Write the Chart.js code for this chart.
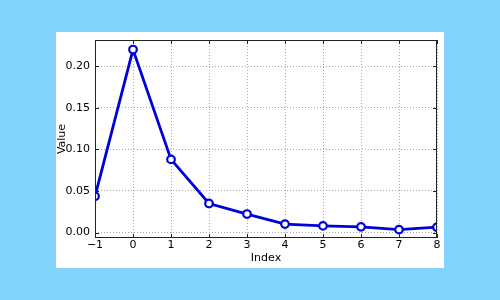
<!DOCTYPE html>
<html>
<head>
<meta charset="utf-8">
<script src="https://cdn.jsdelivr.net/npm/chart.js@4"></script>
<style>
  html, body { margin: 0; padding: 0; }
  body { width: 500px; height: 300px; background: #82d3fd; position: relative; overflow: hidden; }
  #box { position: absolute; left: 56px; top: 32px; width: 388px; height: 236px; background: #fff; }
</style>
</head>
<body>
<div id="box"><canvas id="chart" width="388" height="236"></canvas></div>
<script>
// values
const indices = [-1, 0, 1, 2, 3, 4, 5, 6, 7, 8];
const values = [0.0436, 0.220, 0.088, 0.035, 0.0223, 0.0102, 0.0081, 0.0069, 0.0036, 0.0065];
const yTicks = [0.00, 0.05, 0.10, 0.15, 0.20];

const font = { family: 'DejaVu Sans', size: 11 };

// matplotlib-style black frame with inward ticks
const framePlugin = {
    id: 'frame',
    afterDatasetsDraw(chart) {
        let ctx = chart.ctx;
        let a = chart.chartArea;
        let xs = chart.scales.x, ys = chart.scales.y;
        ctx.save();
        ctx.strokeStyle = '#222';
        ctx.lineWidth = 1;
        ctx.strokeRect(a.left + 0.5, a.top + 0.5, a.right - a.left - 1, a.bottom - a.top - 1);
        ctx.beginPath();
        for (let v of indices) {
            let px = Math.round(xs.getPixelForValue(v)) + 0.5;
            ctx.moveTo(px, a.bottom); ctx.lineTo(px, a.bottom - 4);
            ctx.moveTo(px, a.top); ctx.lineTo(px, a.top + 4);
        }
        for (let v of yTicks) {
            let py = Math.round(ys.getPixelForValue(v)) + 0.5;
            ctx.moveTo(a.left, py); ctx.lineTo(a.left + 4, py);
            ctx.moveTo(a.right, py); ctx.lineTo(a.right - 4, py);
        }
        ctx.stroke();
        ctx.restore();
    }
};

new Chart(document.getElementById('chart'), {
    type: 'line',
    data: {
        datasets: [{
            data: indices.map((x, i) => ({ x: x, y: values[i] })),
            borderColor: '#0000d8',
            borderWidth: 2.8,
            pointRadius: 3.8,
            pointBorderWidth: 2.2,
            pointBackgroundColor: '#fff',
            pointBorderColor: '#0000d8',
            tension: 0
        }]
    },
    options: {
        responsive: false,
        animation: false,
        layout: { padding: { top: 8, right: 7, left: 0, bottom: 0 } },
        plugins: { legend: { display: false }, tooltip: { enabled: false } },
        scales: {
            x: {
                type: 'linear',
                min: -1,
                max: 8,
                ticks: {
                    stepSize: 1,
                    color: '#000',
                    font: font,
                    padding: 1,
                    callback: v => String(v).replace('-', '\u2212')
                },
                grid: { color: '#a8a8a8', lineWidth: 1, drawTicks: false },
                border: { display: false, dash: [1, 2] },
                title: { display: true, text: 'Index', color: '#000', font: font, padding: { top: 0, bottom: 3 } },
                afterFit(scale) {
                    scale.height = 30;
                    scale.paddingLeft = 0;
                    scale.paddingRight = 0;
                }
            },
            y: {
                min: -0.0065,
                max: 0.2315,
                afterBuildTicks(scale) { scale.ticks = yTicks.map(v => ({ value: v })); },
                ticks: {
                    color: '#000',
                    font: font,
                    padding: 5,
                    callback: v => v.toFixed(2)
                },
                grid: { color: '#a8a8a8', lineWidth: 1, drawTicks: false },
                border: { display: false, dash: [1, 2] },
                title: { display: true, text: 'Value', color: '#000', font: font, padding: { top: 0, bottom: 0 } },
                afterFit(scale) {
                    scale.width = 39;
                    scale.paddingTop = 0;
                    scale.paddingBottom = 0;
                }
            }
        }
    },
    plugins: [framePlugin]
});
</script>
</body>
</html>
